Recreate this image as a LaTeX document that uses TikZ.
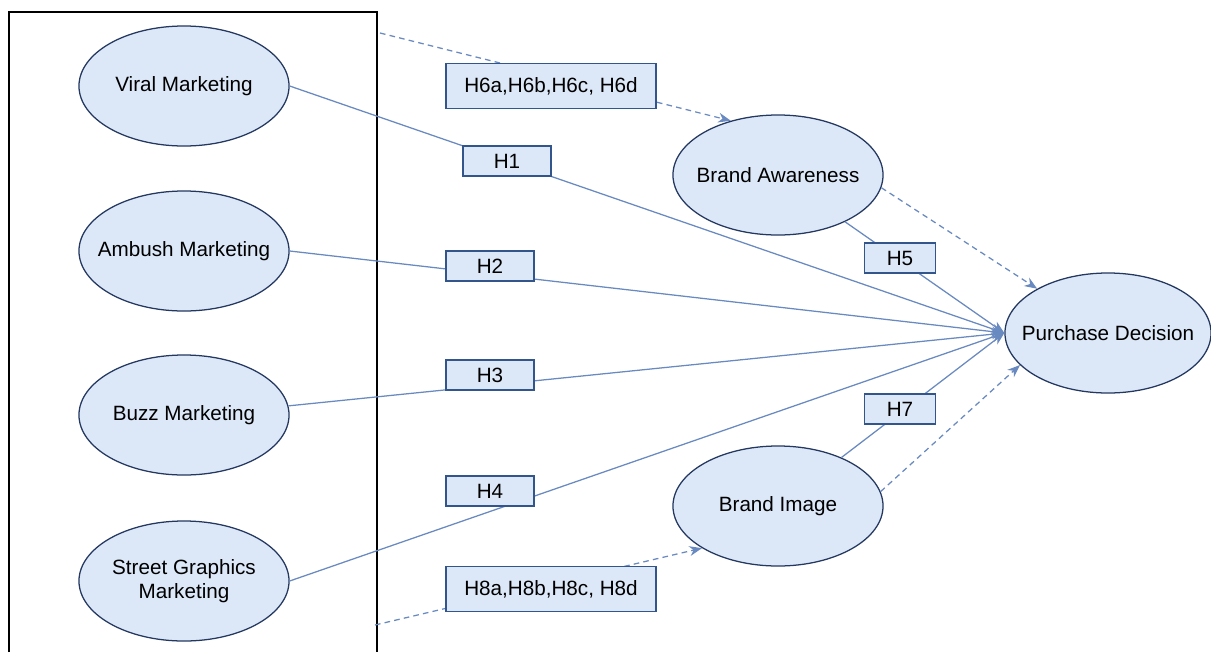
\documentclass[tikz,border=0pt]{standalone}
\usepackage{fontspec}
\setmainfont{Liberation Sans}
\usepackage{xcolor}
\usepackage{tikz}
\usetikzlibrary{arrows.meta,shapes.geometric}
\definecolor{paleblue}{RGB}{220,232,248}
\definecolor{navyline}{RGB}{35,55,95}
\definecolor{boxline}{RGB}{50,85,140}
\definecolor{pathblue}{RGB}{105,138,192}

\begin{document}
\begin{tikzpicture}[x=0.025cm,y=-0.025cm,
  font=\fontsize{14.7}{17}\selectfont,
  construct/.style={ellipse,draw=navyline,fill=paleblue,line width=0.9pt,minimum width=5.25cm,minimum height=3cm,inner sep=0pt},
  hyp/.style={draw=boxline,fill=paleblue,line width=1.1pt,minimum width=2.2cm,minimum height=0.75cm,inner sep=0pt},
  link/.style={draw=pathblue,line width=0.9pt,-{Stealth[length=9pt,width=7pt]}},
  mediated/.style={link,dash pattern=on 4pt off 3pt}]
\useasboundingbox (0,0) rectangle (1211,652);
\draw[line width=1.3pt] (9,652) -- (9,12) -- (377,12) -- (377,652);
\node[construct,label=center:Viral Marketing] (viral) at (184,86) {};
\node[construct,label=center:Ambush Marketing] (ambush) at (184,251) {};
\node[construct,label=center:Buzz Marketing] (buzz) at (184,415) {};
\node[construct,label={[align=center]center:Street Graphics\\Marketing}] (street) at (184,581) {};
\node[construct,label=center:Brand Awareness] (aware) at (778,175) {};
\node[construct,label=center:Brand Image] (image) at (778,506) {};
\node[construct,minimum width=5.15cm,label=center:Purchase Decision] (decision) at (1108,333) {};
\coordinate (grouptop) at (380,33);
\coordinate (groupbot) at (375,625);
\draw[link] (viral.east) -- (decision.west);
\draw[link] (ambush.east) -- (decision.west);
\draw[link] (buzz.5) -- (decision.west);
\draw[link] (street.east) -- (decision.west);
\draw[link] (aware) -- (decision.west);
\draw[link] (image) -- (decision.west);
\draw[mediated] (aware.-7) -- (decision.148);
\draw[mediated] (image.8) -- (decision.200);
\draw[mediated] (grouptop) -- (aware.131);
\draw[mediated] (groupbot) -- (image.209);
\node[hyp] (h1) at (507,161) {H1};
\node[hyp] (h2) at (490,266) {H2};
\node[hyp] (h3) at (490,375) {H3};
\node[hyp] (h4) at (490,491) {H4};
\node[hyp,minimum width=1.78cm] (h5) at (900,258) {H5};
\node[hyp,minimum width=1.78cm] (h7) at (900,409) {H7};
\node[hyp,minimum width=5.25cm,minimum height=1.12cm] (h6) at (551,86) {H6a,H6b,H6c, H6d};
\node[hyp,minimum width=5.25cm,minimum height=1.12cm] (h8) at (551,589) {H8a,H8b,H8c, H8d};
\end{tikzpicture}
\end{document}
